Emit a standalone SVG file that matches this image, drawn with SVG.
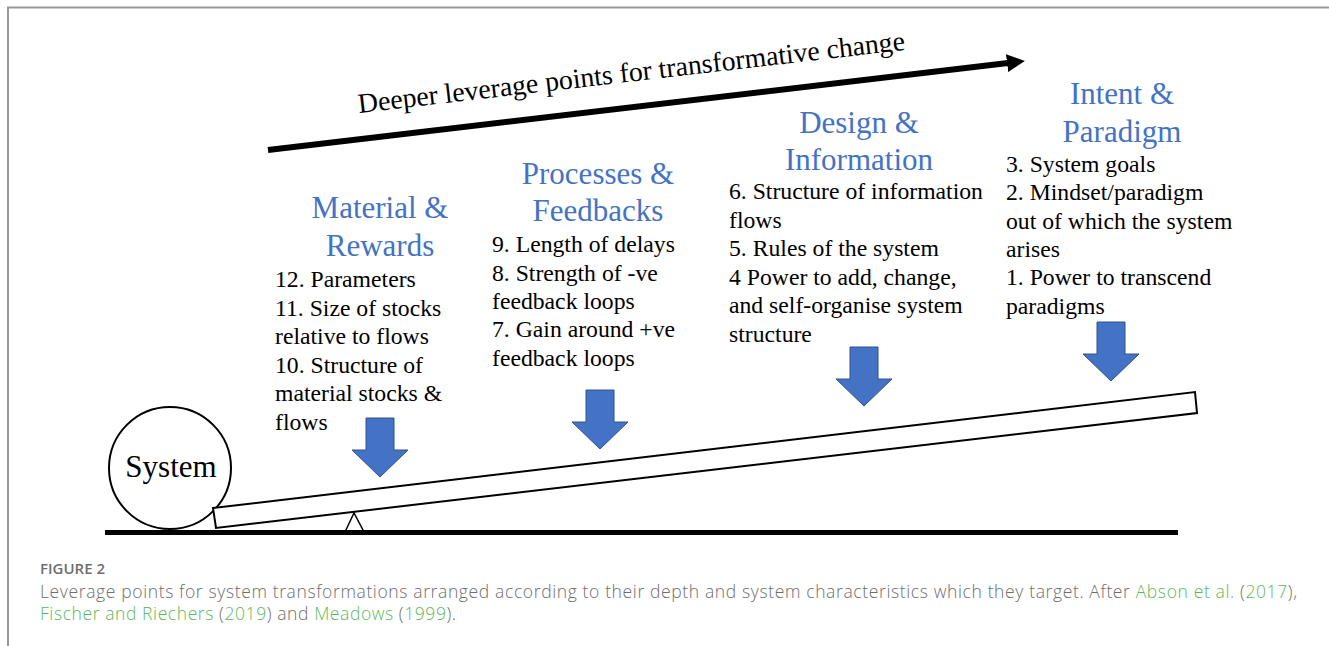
<svg xmlns="http://www.w3.org/2000/svg" width="1329" height="646" viewBox="0 0 1329 646">
  <style>
    .serif { font-family: "Liberation Serif", "Times New Roman", serif; }
    .head { font-size: 31px; fill: #4472C4; text-anchor: middle; }
    .body { font-size: 23.7px; fill: #000; }
    .cap { font-family: "Open Sans", "Noto Sans", sans-serif; fill: #6e6e6e; }
    .link { fill: #5cb85c; }
    .block { fill: #4472C4; stroke: #2F528F; stroke-width: 1; }
    .outline { fill: #fff; stroke: #000; stroke-width: 2; }
  </style>
  <defs>
    <!-- solid head for the depth axis -->
    <marker id="axisHead" markerUnits="userSpaceOnUse" viewBox="0 0 18 18" markerWidth="18" markerHeight="18" refX="1" refY="9" orient="auto">
      <path d="M0,0 L18,9 L0,18 Z" fill="#000"/>
    </marker>
    <!-- downward block arrow, origin at top centre of the shaft -->
    <path id="downArrow" d="M-14,0 H14 V32 H28 L0,59 L-28,32 H-14 Z"/>
  </defs>

  <rect width="1329" height="646" fill="#fff"/>
  <!-- page frame -->
  <path d="M8,646 V7.5 H1329" fill="none" stroke="#999" stroke-width="2"/>

  <g id="connectors">
    <line x1="268" y1="150" x2="1008" y2="63" stroke="#000" stroke-width="6" marker-end="url(#axisHead)"/>
    <use href="#downArrow" class="block" transform="translate(380,418)"/>
    <use href="#downArrow" class="block" transform="translate(600,390)"/>
    <use href="#downArrow" class="block" transform="translate(864,347)"/>
    <use href="#downArrow" class="block" transform="translate(1111,322)"/>
  </g>

  <g id="axis-label">
    <text class="serif" font-size="27.8" transform="translate(359,113) rotate(-6.6)">Deeper leverage points for transformative change</text>
  </g>

  <g id="system">
    <circle cx="170" cy="468" r="61" class="outline"/>
    <text class="serif" x="171" y="477" font-size="31" text-anchor="middle">System</text>
  </g>

  <g id="lever">
    <polygon points="213,508 1195,392 1197,413 216,528" class="outline"/>
    <polygon points="345,532 354,513 364,532" fill="#fff" stroke="#000" stroke-width="1.5"/>
    <line x1="105" y1="532.5" x2="1178" y2="532.5" stroke="#000" stroke-width="5"/>
  </g>

  <g id="material-rewards" class="serif">
    <text class="head" x="380" y="218">Material &amp;</text>
    <text class="head" x="380" y="256">Rewards</text>
    <text class="body">
      <tspan x="275" y="287">12. Parameters</tspan>
      <tspan x="275" y="315.5">11. Size of stocks</tspan>
      <tspan x="275" y="344">relative to flows</tspan>
      <tspan x="275" y="372.5">10. Structure of</tspan>
      <tspan x="275" y="401">material stocks &amp;</tspan>
      <tspan x="275" y="429.5">flows</tspan>
    </text>
  </g>

  <g id="processes-feedbacks" class="serif">
    <text class="head" x="598" y="184">Processes &amp;</text>
    <text class="head" x="598" y="221">Feedbacks</text>
    <text class="body">
      <tspan x="492" y="252">9. Length of delays</tspan>
      <tspan x="492" y="280.5">8. Strength of -ve</tspan>
      <tspan x="492" y="309">feedback loops</tspan>
      <tspan x="492" y="337">7. Gain around +ve</tspan>
      <tspan x="492" y="365.5">feedback loops</tspan>
    </text>
  </g>

  <g id="design-information" class="serif">
    <text class="head" x="859" y="133">Design &amp;</text>
    <text class="head" x="859" y="170">Information</text>
    <text class="body">
      <tspan x="729" y="199">6. Structure of information</tspan>
      <tspan x="729" y="227.5">flows</tspan>
      <tspan x="729" y="256">5. Rules of the system</tspan>
      <tspan x="729" y="284.5">4 Power to add, change,</tspan>
      <tspan x="729" y="313">and self-organise system</tspan>
      <tspan x="729" y="341.5">structure</tspan>
    </text>
  </g>

  <g id="intent-paradigm" class="serif">
    <text class="head" x="1122" y="104">Intent &amp;</text>
    <text class="head" x="1122" y="142">Paradigm</text>
    <text class="body">
      <tspan x="1006" y="172">3. System goals</tspan>
      <tspan x="1006" y="200">2. Mindset/paradigm</tspan>
      <tspan x="1006" y="228.5">out of which the system</tspan>
      <tspan x="1006" y="257">arises</tspan>
      <tspan x="1006" y="285">1. Power to transcend</tspan>
      <tspan x="1006" y="313.5">paradigms</tspan>
    </text>
  </g>

  <g id="caption">
    <text class="cap" x="40" y="574" font-size="15" font-weight="600">FIGURE 2</text>
    <text class="cap" x="40" y="598" font-size="17.5" font-weight="300" textLength="1257" lengthAdjust="spacing">Leverage points for system transformations arranged according to their depth and system characteristics which they target. After <tspan class="link">Abson et al.</tspan> (<tspan class="link">2017</tspan>),</text>
    <text class="cap" x="40" y="620" font-size="17.5" font-weight="300" textLength="416" lengthAdjust="spacing"><tspan class="link">Fischer and Riechers</tspan> (<tspan class="link">2019</tspan>) and <tspan class="link">Meadows</tspan> (<tspan class="link">1999</tspan>).</text>
  </g>
</svg>
